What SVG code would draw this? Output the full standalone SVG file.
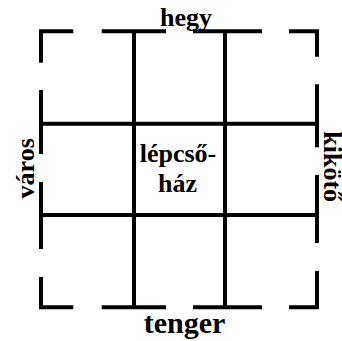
<svg xmlns="http://www.w3.org/2000/svg" width="342" height="341" viewBox="0 0 342 341">
<style>
.w{fill:none;stroke:#000;stroke-width:4;stroke-linecap:butt;stroke-linejoin:miter}
.t{font-family:'Liberation Serif','Times New Roman',serif;font-weight:bold;fill:#000;text-anchor:middle}
</style>
<rect width="342" height="341" fill="#fff"/>
<g id="walls" class="w">
<path d="M41 62.7V31.3H73.3"/>
<path d="M101.7 31.3H166"/>
<path d="M193 31.3H262"/>
<path d="M289 31.3H317V56.7"/>
<path d="M317 84.3V147.3"/>
<path d="M317 175V243"/>
<path d="M317 271V307.2H289"/>
<path d="M262 307.2H193"/>
<path d="M166 307.2H101.7"/>
<path d="M73.3 307.2H41V277"/>
<path d="M41 249V182"/>
<path d="M41 154V90"/>
<path d="M41 123.7H317"/>
<path d="M41 215H317"/>
<path d="M134 31.3V307.2"/>
<path d="M225 31.3V307.2"/>
</g>
<g id="hegy"><text class="t" x="186" y="26" font-size="26">hegy</text></g>
<g id="tenger"><text class="t" x="184.5" y="333" font-size="30">tenger</text></g>
<g id="varos"><text class="t" font-size="26" transform="translate(33.5 168.3) rotate(-90)">város</text></g>
<g id="kikoto"><text class="t" font-size="26" transform="translate(323.5 166.7) rotate(90)">kikötő</text></g>
<g id="lepcsohaz"><text class="t" x="178" y="162" font-size="26">lépcső-</text><text class="t" x="177.5" y="192" font-size="26">ház</text></g>
</svg>
